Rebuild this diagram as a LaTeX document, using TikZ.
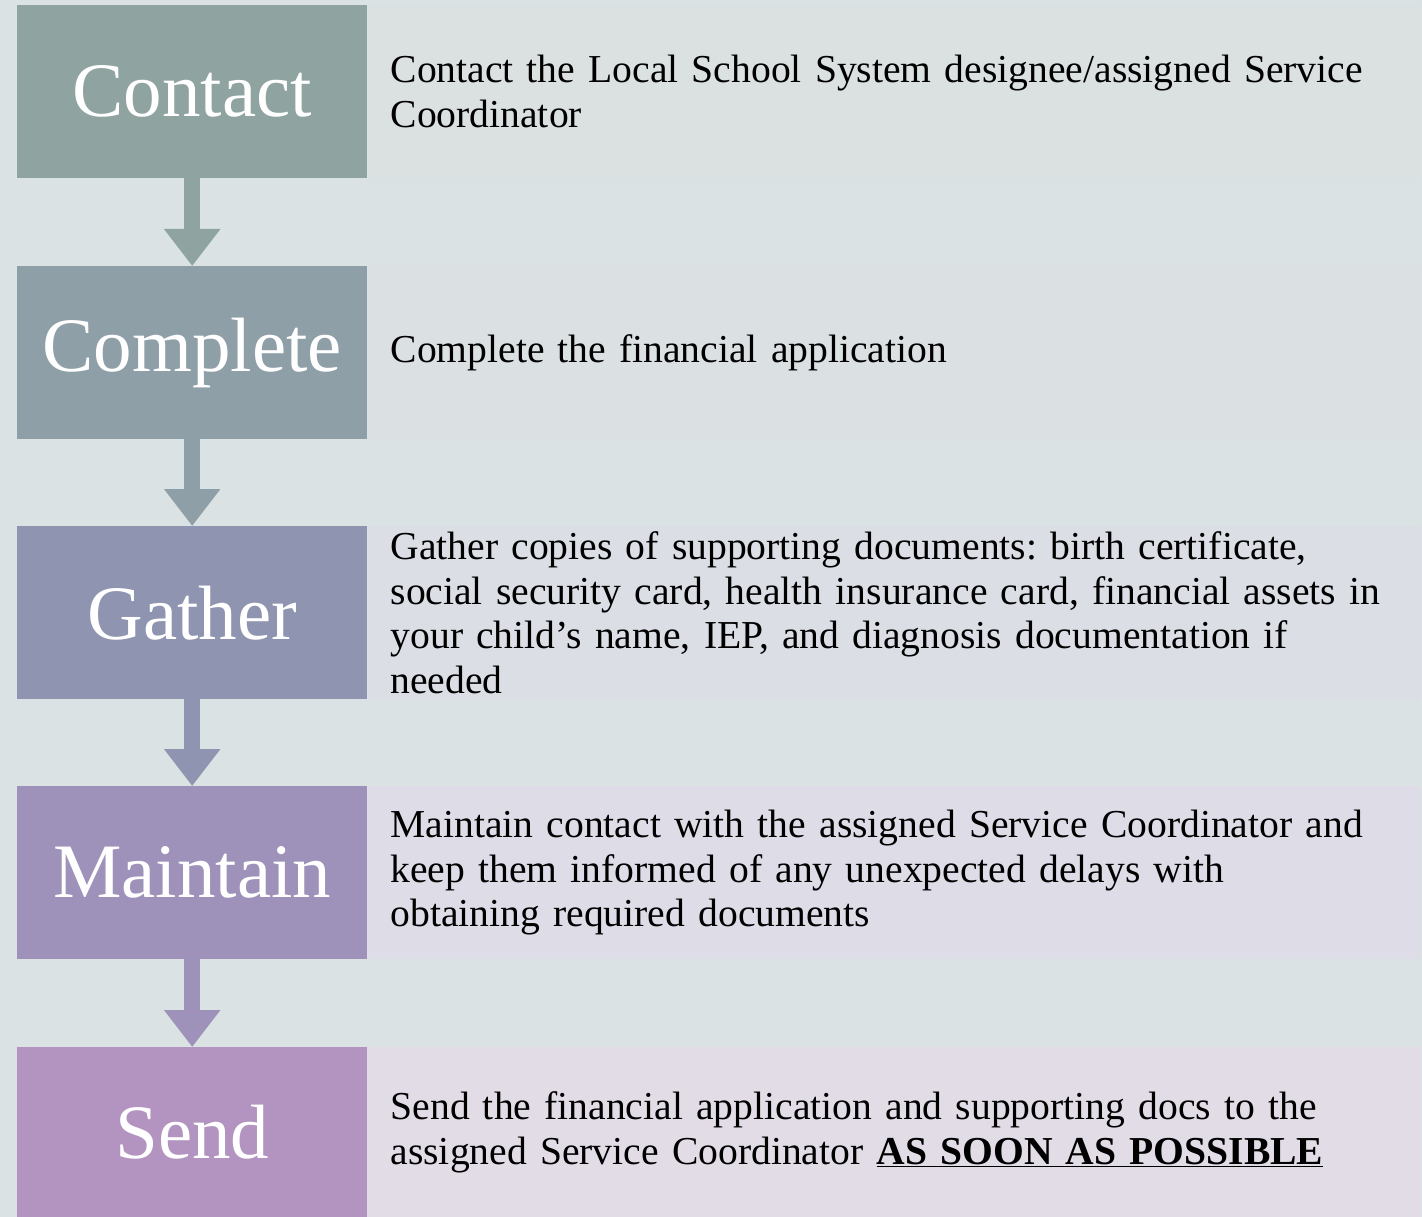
\documentclass[tikz,border=0pt]{standalone}
\usepackage{fontspec}
\setmainfont{Liberation Serif}
\usepackage{tikz}
\usetikzlibrary{arrows.meta,positioning}

\definecolor{bgcol}{HTML}{DAE2E3}
\definecolor{contactcol}{HTML}{8FA3A0}
\definecolor{completecol}{HTML}{8E9FA8}
\definecolor{gathercol}{HTML}{8F94B1}
\definecolor{maintaincol}{HTML}{9E92BA}
\definecolor{sendcol}{HTML}{B394C0}
\definecolor{contactpan}{HTML}{DAE1E0}
\definecolor{completepan}{HTML}{DBE0E3}
\definecolor{gatherpan}{HTML}{DCDEE6}
\definecolor{maintainpan}{HTML}{DEDCE7}
\definecolor{sendpan}{HTML}{E2DCE7}

\begin{document}
\frenchspacing
\begin{tikzpicture}[x=1pt, y=-1pt,
                    step_box/.style={rectangle, fill=#1, text=white, minimum width=350pt, minimum height=173pt, inner sep=0pt, anchor=north west, font=\fontsize{77}{80}\selectfont},
                    info_box/.style={rectangle, fill=#1, text=black, minimum width=1053pt, minimum height=173pt, text width=1007pt, inner xsep=23pt, inner ysep=0pt, align=left, anchor=west, font=\fontsize{39.6}{44.8}\selectfont},
                    flow_arrow/.style={draw=#1, line width=16pt, -{Triangle[width=54pt, length=37pt]}}
                ]
                    \fill[bgcol] (0,0) rectangle (1422,1217);
                    \useasboundingbox (0,0) rectangle (1422,1217);

                    \node[step_box=contactcol] (contact) at (17,5) {Contact};
                    \node[step_box=completecol] (complete) at (17,266) {Complete};
                    \node[step_box=gathercol] (gather) at (17,526) {Gather};
                    \node[step_box=maintaincol] (maintain) at (17,786) {Maintain};
                    \node[step_box=sendcol, minimum height=170pt] (send) at (17,1047) {Send};

                    \node[info_box=contactpan] (contact_text) at (contact.east) {Contact the Local School System designee/assigned Service\\Coordinator};
                    \node[info_box=completepan] (complete_text) at (complete.east) {Complete the financial application};
                    \node[info_box=gatherpan] (gather_text) at (gather.east) {Gather copies of supporting documents: birth certificate,\\social security card, health insurance card, financial assets in\\your child’s name, IEP, and diagnosis documentation if\\needed};
                    \node[info_box=maintainpan] (maintain_text) at (maintain.east) {Maintain contact with the assigned Service Coordinator and\\keep them informed of any unexpected delays with\\obtaining required documents};
                    \node[info_box=sendpan, minimum height=170pt] (send_text) at (send.east) {Send the financial application and supporting docs to the\\assigned Service Coordinator \underline{\textbf{AS SOON AS POSSIBLE}}};

                    \draw[flow_arrow=contactcol] (contact.south) -- (complete.north);
                    \draw[flow_arrow=completecol] (complete.south) -- (gather.north);
                    \draw[flow_arrow=gathercol] (gather.south) -- (maintain.north);
                    \draw[flow_arrow=maintaincol] (maintain.south) -- (send.north);
                \end{tikzpicture}
\end{document}
